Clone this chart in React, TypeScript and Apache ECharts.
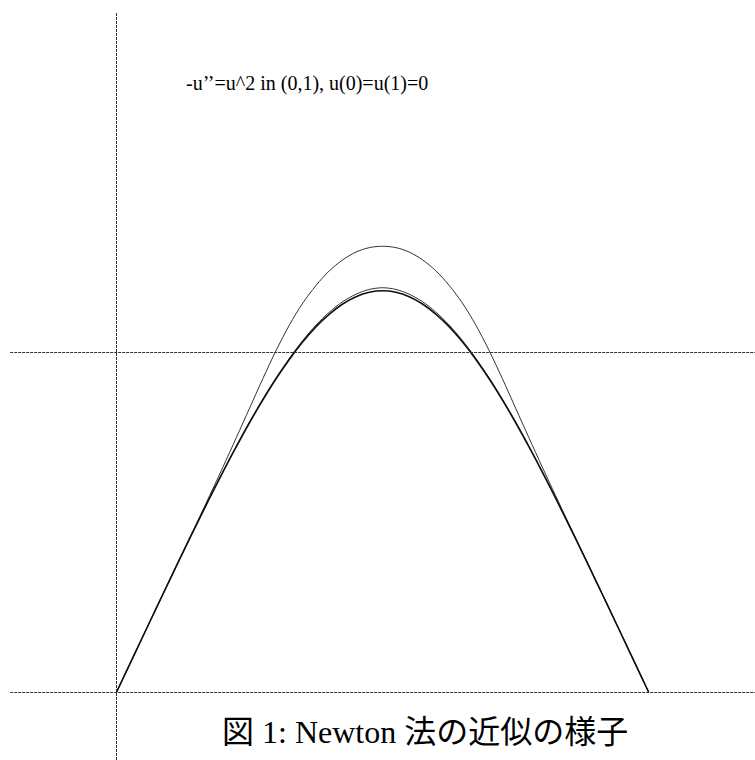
import React, { useEffect, useRef } from "react";
import * as echarts from "echarts";

// x positions of the sampled points (unit interval, step 0.025)
const xValues = [
  0, 0.025, 0.05, 0.075, 0.1, 0.125, 0.15, 0.175, 0.2, 0.225, 0.25,
  0.275, 0.3, 0.325, 0.35, 0.375, 0.4, 0.425, 0.45, 0.475, 0.5,
  0.525, 0.55, 0.575, 0.6, 0.625, 0.65, 0.675, 0.7, 0.725, 0.75,
  0.775, 0.8, 0.825, 0.85, 0.875, 0.9, 0.925, 0.95, 0.975, 1,
];

// Newton iterates
const iterateA = [
  0, 0.83, 1.66, 2.48, 3.31, 4.13, 4.95, 5.78, 6.62, 7.48, 8.35,
  9.22, 10.05, 10.8, 11.44, 11.96, 12.39, 12.71, 12.94, 13.07, 13.11,
  13.07, 12.94, 12.71, 12.39, 11.96, 11.44, 10.8, 10.05, 9.22, 8.35,
  7.48, 6.62, 5.78, 4.95, 4.13, 3.31, 2.48, 1.66, 0.83, 0,
];
const iterateB = [
  0, 0.827, 1.655, 2.48, 3.302, 4.118, 4.923, 5.714, 6.485, 7.228, 7.943,
  8.615, 9.245, 9.82, 10.34, 10.795, 11.175, 11.48, 11.7, 11.84, 11.89,
  11.84, 11.7, 11.48, 11.175, 10.795, 10.34, 9.82, 9.245, 8.615, 7.943,
  7.228, 6.485, 5.714, 4.923, 4.118, 3.302, 2.48, 1.655, 0.827, 0,
];
const iterateC = [
  0, 0.827, 1.654, 2.479, 3.3, 4.115, 4.918, 5.707, 6.476, 7.216, 7.927,
  8.595, 9.22, 9.789, 10.3, 10.746, 11.117, 11.413, 11.627, 11.757, 11.8,
  11.757, 11.627, 11.413, 11.117, 10.746, 10.3, 9.789, 9.22, 8.595, 7.927,
  7.216, 6.476, 5.707, 4.918, 4.115, 3.3, 2.479, 1.654, 0.827, 0,
];

// dotted reference lines
const refXLines = [0];
const refYLines = [0, 10];

const titleText = "-u’’=u^2 in (0,1), u(0)=u(1)=0";
const captionText = "図 1: Newton 法の近似の様子";

const toPairs = (ys: number[]) => xValues.map((x, i) => [x, ys[i]]);

export default function App() {
  const ref = useRef<HTMLDivElement>(null);
  useEffect(() => {
    if (!ref.current) return;
    const chart = echarts.init(ref.current, undefined, { renderer: "svg" });
    const thin = { color: "#333", width: 1 };
    chart.setOption({
      animation: false,
      backgroundColor: "#fff",
      grid: { left: 10.2, top: 12, width: 754.6, height: 752.4, containLabel: false },
      xAxis: { type: "value", min: -0.2, max: 1.2, show: false },
      yAxis: { type: "value", min: -2, max: 20, show: false },
      series: [
        {
          type: "line",
          data: toPairs(iterateA),
          smooth: 0.3,
          showSymbol: false,
          lineStyle: thin,
          markLine: {
            silent: true,
            symbol: ["none", "none"],
            label: { show: false },
            lineStyle: { type: [3, 1], color: "#333", width: 1 },
            data: [
              ...refXLines.map((v) => ({ xAxis: v })),
              ...refYLines.map((v) => ({ yAxis: v })),
            ],
          },
        },
        {
          type: "line",
          data: toPairs(iterateB),
          smooth: 0.3,
          showSymbol: false,
          lineStyle: thin,
        },
        {
          type: "line",
          data: toPairs(iterateC),
          smooth: 0.3,
          showSymbol: false,
          lineStyle: { color: "#111", width: 1.6 },
        },
      ],
      graphic: [
        {
          type: "text",
          x: 186,
          y: 83,
          style: {
            text: titleText,
            font: '20px "Liberation Serif", serif',
            fill: "#000",
            align: "left",
            verticalAlign: "middle",
          },
        },
        {
          type: "text",
          x: 222,
          y: 732,
          style: {
            text: captionText,
            font: '32px "Liberation Serif", "Noto Sans CJK JP", serif',
            fill: "#000",
            align: "left",
            verticalAlign: "middle",
          },
        },
      ],
    });
    return () => chart.dispose();
  }, []);
  return (
    <div
      ref={ref}
      style={{ position: "fixed", left: 0, top: 0, width: 755, height: 760, background: "#fff" }}
    />
  );
}
